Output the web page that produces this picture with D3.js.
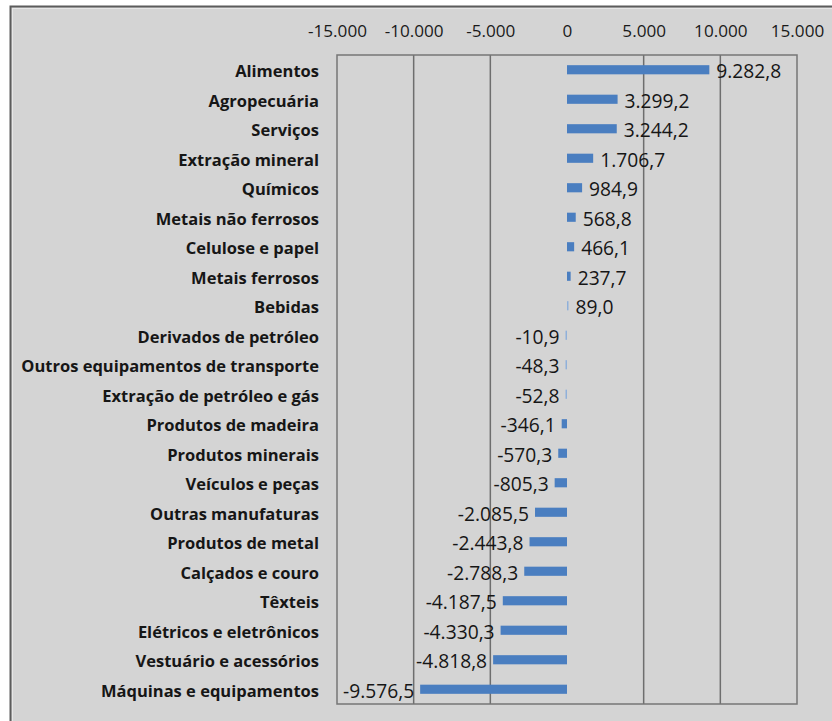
<!DOCTYPE html>
<html><head><meta charset="utf-8">
<script src="https://cdn.jsdelivr.net/npm/d3@7"></script>
<style>body{margin:0;background:#fff;}svg{display:block;}</style>
</head><body>
<svg id="c" width="832" height="721"></svg>
<script>
const categories = ["Alimentos","Agropecuária","Serviços","Extração mineral","Químicos","Metais não ferrosos","Celulose e papel","Metais ferrosos","Bebidas","Derivados de petróleo","Outros equipamentos de transporte","Extração de petróleo e gás","Produtos de madeira","Produtos minerais","Veículos e peças","Outras manufaturas","Produtos de metal","Calçados e couro","Têxteis","Elétricos e eletrônicos","Vestuário e acessórios","Máquinas e equipamentos"];
const values = [9282.8,3299.2,3244.2,1706.7,984.9,568.8,466.1,237.7,89.0,-10.9,-48.3,-52.8,-346.1,-570.3,-805.3,-2085.5,-2443.8,-2788.3,-4187.5,-4330.3,-4818.8,-9576.5];
const tickValues = [-15000,-10000,-5000,0,5000,10000,15000];

const loc = d3.formatLocale({decimal:",", thousands:".", grouping:[3], currency:["",""], minus:"-"});
const fmtVal = loc.format(",.1f");
const fmtTick = loc.format(",.0f");

const FONT = "'Open Sans', 'DejaVu Sans', sans-serif";
const svg = d3.select("#c");
const L = 337, R = 797, T = 55, B = 704;
const x = d3.scaleLinear().domain([-15000,15000]).range([L,R]);
const y = d3.scaleBand().domain(categories).range([T,B]).paddingInner(0.69).paddingOuter(0.345);

// font size fitting helper
function fitSize(text, weight, target){
  const t = svg.append("text").attr("font-family",FONT).attr("font-weight",weight).attr("font-size",20).text(text);
  const w = t.node().getComputedTextLength(); t.remove();
  return 20*target/w;
}
const catSize = fitSize("Outros equipamentos de transporte","bold",298);
const valSize = fitSize("9.282,8","normal",65);
const tickSize = fitSize("-15.000","normal",59);

// outer frame
svg.append("rect").attr("x",10.5).attr("y",6.5).attr("width",900).attr("height",800)
  .attr("fill","#d4d4d4").attr("stroke","#5c5c5c").attr("stroke-width",2);
svg.append("rect").attr("x",12.5).attr("y",8.5).attr("width",900).attr("height",800)
  .attr("fill","none").attr("stroke","#e6e6e6").attr("stroke-width",1);

// gridlines
svg.append("g").selectAll("line").data(tickValues.filter(d=>d!==0 && Math.abs(d)!==15000)).join("line")
  .attr("x1",d=>x(d)).attr("x2",d=>x(d)).attr("y1",T).attr("y2",B)
  .attr("stroke","#6e6e6e").attr("stroke-width",1.5);

// plot border
svg.append("rect").attr("x",L).attr("y",T).attr("width",R-L).attr("height",B-T)
  .attr("fill","none").attr("stroke","#767676").attr("stroke-width",1.5);

// top axis
const axis = d3.axisTop(x).tickValues(tickValues).tickFormat(fmtTick).tickSize(0).tickPadding(0);
const ag = svg.append("g").attr("transform",`translate(0,${37})`).call(axis);
ag.select(".domain").remove();
ag.selectAll("text").attr("font-family",FONT).attr("font-size",tickSize).attr("fill","#1a1a1a");

// bars
const bh = y.bandwidth();
svg.append("g").selectAll("rect").data(values).join("rect")
  .attr("x",(d)=> d>=0 ? x(0) : Math.min(x(d), x(0)-1.5))
  .attr("y",(d,i)=>y(categories[i]))
  .attr("width",d=>Math.max(Math.abs(x(d)-x(0)),1.5))
  .attr("height",bh)
  .attr("fill",(d)=>Math.abs(x(d)-x(0))<2 ? "#8fb0da" : "#4a7ec0");

// value labels
svg.append("g").selectAll("text").data(values).join("text")
  .attr("x",d=> d>=0 ? Math.max(x(d),x(0)+1.5)+7 : Math.min(x(d),x(0)-1.5)-6)
  .attr("y",(d,i)=>y(categories[i])+bh/2+1)
  .attr("dominant-baseline","central")
  .attr("text-anchor",d=>d>=0?"start":"end")
  .attr("font-family",FONT).attr("font-size",valSize).attr("fill","#161616")
  .text(d=>fmtVal(d));

// category labels
svg.append("g").selectAll("text").data(categories).join("text")
  .attr("x",319).attr("y",d=>y(d)+bh/2+1)
  .attr("dominant-baseline","central").attr("text-anchor","end")
  .attr("font-family",FONT).attr("font-weight","bold").attr("font-size",catSize)
  .attr("fill","#161616").text(d=>d);
</script>
</body></html>
